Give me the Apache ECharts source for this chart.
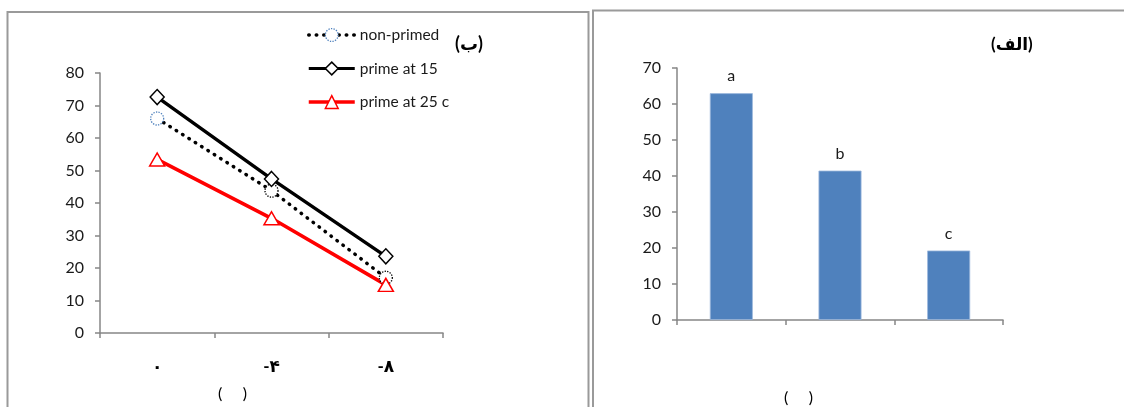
<!DOCTYPE html>
<html>
<head>
<meta charset="utf-8">
<script src="https://cdn.jsdelivr.net/npm/echarts@6/dist/echarts.min.js"></script>
<style>
  html, body { margin: 0; padding: 0; background: #fff; }
  #chart { width: 1124px; height: 407px; }
</style>
</head>
<body>
<div id="chart"></div>
<script>
// Panel (ب): germination vs. osmotic potential for three priming treatments
var lineCategories = ['۰', '-۴', '-۸'];
var nonPrimed = [66, 43.8, 17];
var primeAt15 = [72.6, 47.4, 23.6];
var primeAt25 = [53.4, 35.3, 14.8];
var lineTicks = { min: 0, max: 80, interval: 10 };

// Panel (الف): single bar series with significance letters
var barCategories = ['g1', 'g2', 'g3'];
var barValues = [63, 41.5, 19.3];
var barLetters = ['a', 'b', 'c'];
var barTicks = { min: 0, max: 70, interval: 10 };

var FONT = 'Lato, "DejaVu Sans", sans-serif';
var AXIS_GRAY = '#868686';

var chart = echarts.init(document.getElementById('chart'), null, { renderer: 'canvas' });

function valueAxis(gridIndex, ticks) {
  return {
    type: 'value', gridIndex: gridIndex,
    min: ticks.min, max: ticks.max, interval: ticks.interval,
    axisLine: { show: true, lineStyle: { color: AXIS_GRAY, width: 1.5 } },
    axisTick: { show: true, length: 5, lineStyle: { color: AXIS_GRAY, width: 1.5 } },
    axisLabel: { margin: 16, color: '#1a1a1a', fontSize: 16, fontFamily: FONT },
    splitLine: { show: false }
  };
}

function categoryAxis(gridIndex, cats, showLabels) {
  return {
    type: 'category', gridIndex: gridIndex, data: cats, boundaryGap: true,
    axisLine: { show: true, lineStyle: { color: AXIS_GRAY, width: 1.5 } },
    axisTick: { show: true, length: 5, interval: 0, lineStyle: { color: AXIS_GRAY, width: 1.5 } },
    axisLabel: {
      show: showLabels, interval: 0, margin: 25, color: '#000',
      fontSize: 17, fontWeight: 'bold', fontFamily: FONT
    }
  };
}

var hollow = '#ffffff';
var dotted = [0.5, 7];

chart.setOption({
  animation: false,
  backgroundColor: '#ffffff',
  textStyle: { fontFamily: FONT },
  grid: [
    { left: 100, top: 73, width: 343, height: 260 },
    { left: 677, top: 68, width: 326, height: 252 }
  ],
  xAxis: [
    categoryAxis(0, lineCategories, true),
    categoryAxis(1, barCategories, false)
  ],
  yAxis: [
    valueAxis(0, lineTicks),
    valueAxis(1, barTicks)
  ],
  legend: {
    orient: 'vertical', left: 307, top: 27, padding: 0,
    itemWidth: 46, itemHeight: 16, itemGap: 17.5,
    textStyle: { fontSize: 15.5, color: '#1a1a1a', fontFamily: FONT },
    data: [
      {
        name: 'non-primed',
        lineStyle: { width: 3.5, type: dotted, cap: 'round' },
        itemStyle: { color: hollow, borderColor: '#4F81BD', borderWidth: 1.3, borderType: 'dotted' }
      },
      {
        name: 'prime at 15', lineStyle: { width: 3.2 },
        itemStyle: { color: hollow, borderColor: '#000', borderWidth: 1.5 }
      },
      {
        name: 'prime at 25 c', lineStyle: { width: 3.5 },
        itemStyle: { color: hollow, borderColor: '#ff0000', borderWidth: 1.5 }
      }
    ]
  },
  series: [
    {
      name: 'non-primed', type: 'line', xAxisIndex: 0, yAxisIndex: 0,
      data: [
        { value: nonPrimed[0] },
        { value: nonPrimed[1], itemStyle: { borderColor: '#000' } },
        { value: nonPrimed[2], itemStyle: { borderColor: '#000' } }
      ],
      symbol: 'circle', symbolSize: 13,
      lineStyle: { color: '#000', width: 3.5, type: dotted, cap: 'round' },
      itemStyle: { color: hollow, borderColor: '#4F81BD', borderWidth: 1.3, borderType: 'dotted' },
      z: 2
    },
    {
      name: 'prime at 15', type: 'line', xAxisIndex: 0, yAxisIndex: 0,
      data: primeAt15,
      symbol: 'diamond', symbolSize: [14, 15],
      lineStyle: { color: '#000', width: 3.4 },
      itemStyle: { color: hollow, borderColor: '#000', borderWidth: 1.5 },
      z: 3
    },
    {
      name: 'prime at 25 c', type: 'line', xAxisIndex: 0, yAxisIndex: 0,
      data: primeAt25,
      symbol: 'triangle', symbolSize: [15, 13],
      lineStyle: { color: '#ff0000', width: 3.6 },
      itemStyle: { color: hollow, borderColor: '#ff0000', borderWidth: 1.5 },
      z: 2
    },
    {
      name: 'bars', type: 'bar', xAxisIndex: 1, yAxisIndex: 1,
      data: barValues, barWidth: 43,
      itemStyle: { color: '#4F81BD', borderColor: '#9DB9DD', borderWidth: 0.8 },
      label: {
        show: true, position: 'top', distance: 9,
        fontSize: 16, color: '#1a1a1a', fontFamily: FONT,
        formatter: function (p) { return barLetters[p.dataIndex]; }
      }
    }
  ],
  graphic: [
    {
      type: 'rect', silent: true, z: 0,
      shape: { x: 7.5, y: 12, width: 581, height: 420 },
      style: { fill: null, stroke: '#9a9a9a', lineWidth: 2 }
    },
    {
      type: 'rect', silent: true, z: 0,
      shape: { x: 593, y: 10.5, width: 600, height: 420 },
      style: { fill: null, stroke: '#9a9a9a', lineWidth: 2 }
    },
    {
      type: 'text', left: 455, top: 35, silent: true,
      style: { text: '(ب)', fill: '#000', font: 'bold 18px ' + FONT }
    },
    {
      type: 'text', left: 991, top: 36, silent: true,
      style: { text: '(الف)', fill: '#000', font: 'bold 17px ' + FONT }
    },
    {
      type: 'text', left: 218, top: 386, silent: true,
      style: { text: '(     )', fill: '#000', font: '16px ' + FONT }
    },
    {
      type: 'text', left: 784, top: 390, silent: true,
      style: { text: '(     )', fill: '#000', font: '16px ' + FONT }
    }
  ]
});
</script>
</body>
</html>
